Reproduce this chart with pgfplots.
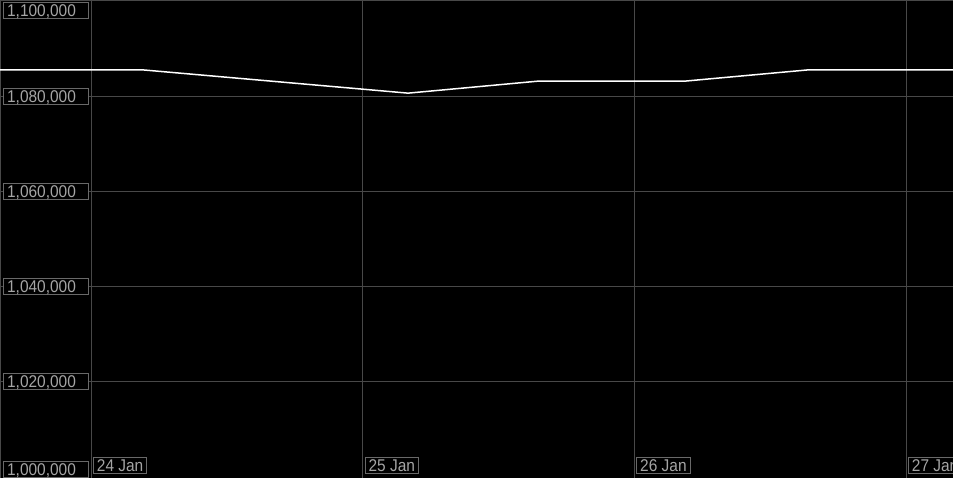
\documentclass[border=0pt]{standalone}
\usepackage{pgfplots}
\pgfplotsset{compat=1.18}
\usepackage{fontspec}
\setmainfont{Liberation Sans}[FakeStretch=0.91]
\definecolor{gridc}{RGB}{72,72,72}
\definecolor{boxc}{RGB}{105,105,105}
\definecolor{txtc}{RGB}{165,165,165}
\begin{document}
\begin{tikzpicture}
\begin{axis}[
 name=ax,
 scale only axis, width=953bp, height=478bp,
 xmin=-0.335, xmax=3.173,
 ymin=999579, ymax=1100210,
 axis background/.style={fill=black},
 axis line style={gridc},
 grid=major, major grid style={gridc, line width=0.8bp},
 major tick length=0pt,
 xtick={0,1,2,3}, xticklabels={24 Jan,25 Jan,26 Jan,27 Jan},
 ytick={1020000,1040000,1060000,1080000},
 yticklabels={{1,020,000},{1,040,000},{1,060,000},{1,080,000}},
 extra y ticks={1001376,1098100},
 extra y tick labels={{1,000,000},{1,100,000}},
 extra y tick style={grid=none},
 y tick label style={anchor=west, xshift=3bp, draw=boxc, fill=black, text=txtc, font=\fontsize{17bp}{18bp}\selectfont, text height=12.2bp, text depth=0bp, inner ysep=1.9bp, inner xsep=3.7bp, text width=77.6bp, line width=0.8bp},
 x tick label style={anchor=south west, xshift=2bp, yshift=4.5bp, draw=boxc, fill=black, text=txtc, font=\fontsize{17bp}{18bp}\selectfont, text height=12.2bp, text depth=0bp, inner ysep=1.5bp, inner xsep=3.5bp, line width=0.8bp},
]
\addplot[white, line width=1.5bp] coordinates {
 (-0.335,1085500) (0.19,1085500) (1.167,1080600) (1.65,1083150) (2.19,1083150) (2.64,1085500) (3.173,1085500)
};
\end{axis}
\pgfresetboundingbox
\path (ax.south west) rectangle (ax.north east);
\end{tikzpicture}
\end{document}
